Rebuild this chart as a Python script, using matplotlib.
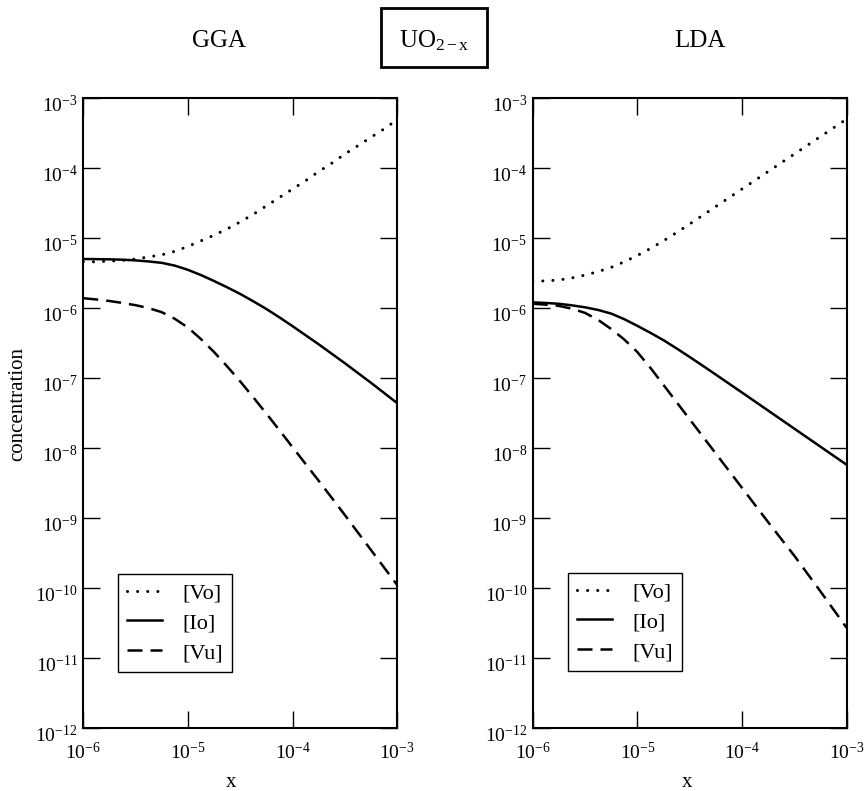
import matplotlib
matplotlib.use("Agg")
import matplotlib.pyplot as plt
import matplotlib.transforms as mtransforms
import numpy as np
from matplotlib.patches import Rectangle
from matplotlib.ticker import FixedLocator, LogFormatterMathtext, NullLocator

plt.rcParams["font.family"] = ["Liberation Serif", "DejaVu Serif"]
plt.rcParams["mathtext.fontset"] = "custom"
plt.rcParams["mathtext.rm"] = "Liberation Serif"
plt.rcParams["mathtext.it"] = "Liberation Serif:italic"

# log10 of x, shared by all curves
log_x = [-6.0, -5.875, -5.75, -5.625, -5.5, -5.375, -5.25, -5.125, -5.0,
         -4.875, -4.75, -4.625, -4.5, -4.375, -4.25, -4.125, -4.0,
         -3.875, -3.75, -3.625, -3.5, -3.375, -3.25, -3.125, -3.0]

# GGA, log10 of concentration
gga_vo = [-5.34, -5.34, -5.33, -5.32, -5.30, -5.27, -5.24, -5.19, -5.12,
          -5.04, -4.96, -4.87, -4.77, -4.66, -4.54, -4.42, -4.30,
          -4.18, -4.05, -3.93, -3.80, -3.68, -3.56, -3.44, -3.31]
gga_io = [-5.30, -5.302, -5.305, -5.31, -5.32, -5.335, -5.355, -5.395, -5.455,
          -5.53, -5.615, -5.705, -5.80, -5.905, -6.015, -6.135, -6.26,
          -6.39, -6.52, -6.655, -6.79, -6.93, -7.07, -7.215, -7.36]
gga_vu = [-5.86, -5.878, -5.90, -5.928, -5.96, -6.002, -6.06, -6.155, -6.28,
          -6.445, -6.63, -6.835, -7.05, -7.278, -7.51, -7.748, -7.99,
          -8.23, -8.47, -8.714, -8.96, -9.21, -9.46, -9.71, -9.96]

# LDA
lda_vo = [-5.62, -5.612, -5.60, -5.57, -5.53, -5.48, -5.42, -5.34, -5.25,
          -5.15, -5.04, -4.922, -4.80, -4.675, -4.55, -4.425, -4.30,
          -4.175, -4.05, -3.925, -3.80, -3.675, -3.55, -3.425, -3.30]
lda_io = [-5.92, -5.928, -5.94, -5.962, -5.99, -6.028, -6.08, -6.16, -6.255,
          -6.355, -6.46, -6.578, -6.70, -6.825, -6.952, -7.08, -7.208,
          -7.337, -7.466, -7.595, -7.724, -7.853, -7.982, -8.111, -8.24]
lda_vu = [-5.94, -5.952, -5.97, -6.01, -6.07, -6.17, -6.30, -6.45, -6.63,
          -6.855, -7.10, -7.345, -7.59, -7.835, -8.08, -8.325, -8.57,
          -8.815, -9.06, -9.30, -9.54, -9.795, -10.05, -10.31, -10.57]

labels = ["[Vo]", "[Io]", "[Vu]"]
x_ticks = [1e-6, 1e-5, 1e-4, 1e-3]
y_ticks = [10.0 ** k for k in range(-12, -2)]

W, H = 868, 791
fig = plt.figure(figsize=(W / 100, H / 100), dpi=100)


def px(x0, y0, w, h):
    # pixel box (top-left origin) -> figure fraction rect
    return [x0 / W, 1 - (y0 + h) / H, w / W, h / H]


ax_l = fig.add_axes(px(83.3, 98, 314, 630))
ax_r = fig.add_axes(px(532.7, 98, 314, 630))

x = 10.0 ** np.array(log_x)
shift_down = mtransforms.ScaledTranslation(0, -4 / 72, fig.dpi_scale_trans)

for ax, vo, io, vu, leg_x, leg_y in [
    (ax_l, gga_vo, gga_io, gga_vu, 0.1105, 0.0889),
    (ax_r, lda_vo, lda_io, lda_vu, 0.1124, 0.0905),
]:
    ax.plot(x, 10.0 ** np.array(vo), color="black", lw=2.2,
            linestyle=(0, (0.01, 3.3)), dash_capstyle="round", label=labels[0])
    ax.plot(x, 10.0 ** np.array(io), color="black", lw=1.8, label=labels[1])
    ax.plot(x, 10.0 ** np.array(vu), color="black", lw=1.8,
            linestyle=(0, (6.0, 3.2)), label=labels[2])

    ax.set_xscale("log")
    ax.set_yscale("log")
    ax.set_xlim(1e-6, 1e-3)
    ax.set_ylim(1e-12, 1e-3)
    ax.xaxis.set_major_locator(FixedLocator(x_ticks))
    ax.yaxis.set_major_locator(FixedLocator(y_ticks))
    ax.xaxis.set_minor_locator(NullLocator())
    ax.yaxis.set_minor_locator(NullLocator())
    ax.xaxis.set_major_formatter(LogFormatterMathtext())
    ax.yaxis.set_major_formatter(LogFormatterMathtext())
    ax.tick_params(direction="in", top=True, right=True, length=12, width=1,
                   labelsize=14)
    ax.tick_params(axis="y", pad=4)
    ax.tick_params(axis="x", pad=10)
    for s in ax.spines.values():
        s.set_linewidth(1.5)
    # labels sit a little below their ticks in the original
    for tick in ax.yaxis.get_major_ticks():
        tick.label1.set_transform(tick.label1.get_transform() + shift_down)

    leg = ax.legend(loc="lower left", bbox_to_anchor=(leg_x, leg_y),
                    borderaxespad=0, fontsize=16, handlelength=1.6,
                    handletextpad=0.9, labelspacing=0.42, borderpad=0.4,
                    fancybox=False, framealpha=1, edgecolor="black")
    leg.get_frame().set_linewidth(1.0)


def ftext(xp, yp, s, **kw):
    fig.text(xp / W, 1 - yp / H, s, **kw)


ftext(219, 47, "GGA", fontsize=18, ha="center", va="baseline")
ftext(700, 47, "LDA", fontsize=18, ha="center", va="baseline")
ftext(434, 47, r"UO$_{\mathrm{2-x}}$", fontsize=18, ha="center", va="baseline")
fig.patches.append(Rectangle((381 / W, 1 - 67 / H), 106 / W, 59 / H,
                             transform=fig.transFigure, fill=False,
                             edgecolor="black", linewidth=2))

ftext(18, 404, "concentration", fontsize=15, ha="center", va="center",
      rotation=90)
ftext(231, 787, "x", fontsize=15, ha="center", va="baseline")
ftext(687, 787, "x", fontsize=15, ha="center", va="baseline")

fig.savefig("out.png", dpi=100)
